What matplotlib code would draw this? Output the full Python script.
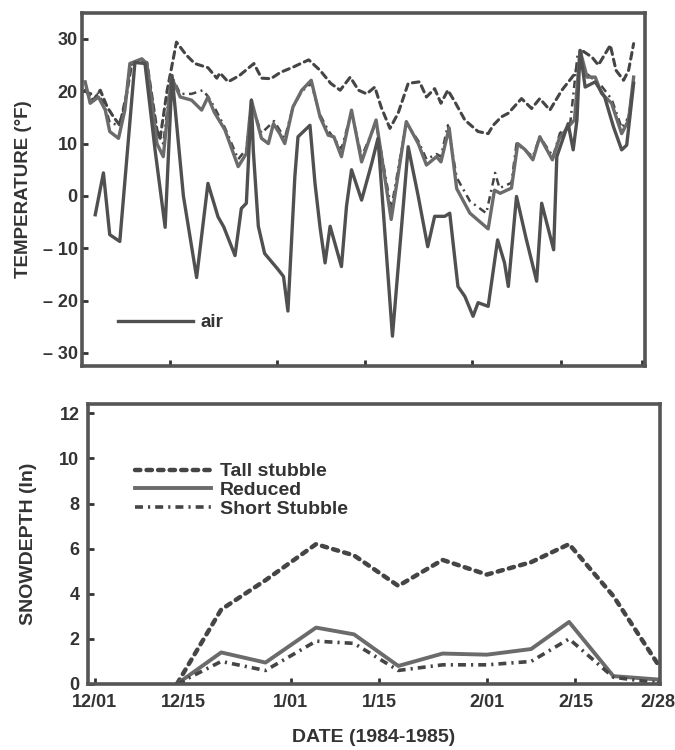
import matplotlib
matplotlib.use("Agg")
import matplotlib.pyplot as plt

plt.rcParams['font.family'] = ['Liberation Sans', 'DejaVu Sans']
plt.rcParams['font.weight'] = 'bold'
plt.rcParams['axes.labelweight'] = 'bold'

# day 0 = 12/01/1984
tick_days = [0, 14, 31, 45, 62, 76, 89]
tick_labels = ["12/01", "12/15", "1/01", "1/15", "2/01", "2/15", "2/28"]

# ---- soil / air temperatures (deg F) ----
tall_days = [0.5, 1.8, 2.9, 4, 5, 6, 7.1, 7.9, 9.2, 10.3, 11.9, 12.4, 13.5, 15, 16.5,
             17.9, 20, 21.4, 21.9, 23.2, 25, 27.3, 28.5, 30, 31.5, 33.5, 36, 37.8, 39.5,
             41, 42.6, 43.9, 45.2, 46.5, 47.5, 48.9, 50.2, 51.8, 53.6, 54.7, 56, 57, 58.1,
             59.2, 60.8, 62.9, 64.5, 65.3, 66.6, 67.7, 69.8, 71.4, 72.7, 74.3, 76.2, 78.3,
             79.4, 81, 82, 83.9, 84.8, 86, 86.8, 87.6]
tall_temp = [20.2, 18.3, 20.2, 17, 15.1, 13.5, 19.6, 25.3, 25.6, 25.5, 12.6, 11.0, 20, 29.4, 27,
             25.3, 24.5, 22.5, 23.5, 21.8, 23, 25.3, 22.5, 22.4, 23.6, 24.6, 26, 24, 21.5,
             20.2, 22.7, 20.2, 19.5, 20.8, 17, 12.9, 15.8, 21.5, 21.8, 18.9, 20.5, 17.7, 20.2,
             18, 14.5, 12.3, 11.9, 13.5, 15.1, 15.8, 18.6, 16.7, 18.6, 16.4, 20.2, 23.4,
             27.8, 26.5, 25, 28.8, 24, 22.1, 24, 29.1]

red_days = [0.5, 1.3, 2.6, 3.7, 4.4, 5.8, 6.8, 7.6, 9.5, 10.3, 11.9, 12.9, 14.2, 15.6, 17.4,
            19, 20, 21, 22.7, 24.8, 26.1, 26.9, 28.5, 29.6, 30.4, 31.4, 32.2, 33.5, 34.9,
            36.4, 37.8, 39.1, 40, 41.2, 42.8, 44.4, 46.7, 49.1, 51.5, 53.4, 54.7, 56.3, 57,
            58.3, 59.5, 61.6, 64.5, 65.5, 66.4, 68.2, 69.2, 70.4, 71.6, 72.7, 74.7, 75.8,
            77.2, 78.2, 79.1, 80.2, 81.5, 82.5, 84.1, 85.7, 86.8, 87.6]
red_temp = [21.8, 17.7, 18.9, 16.4, 12.3, 11, 16.4, 25.3, 26.2, 25.3, 10, 7.5, 22.7, 18.9, 18.3,
            16.4, 18.9, 16, 12.6, 5.6, 8.1, 18.3, 11, 10, 13.8, 11.9, 10, 17, 20.2,
            22.1, 15.1, 11.6, 11.3, 7.5, 16.4, 6.5, 14.5, -4.5, 14.2, 10, 5.9, 7.5, 6.5,
            13, 1.4, -3.3, -6.3, 1.1, 0.5, 1.5, 10, 8.8, 6.9, 11.3, 6.9, 11,
            13.2, 14.5, 27.8, 22.7, 22.7, 19.6, 17.7, 11.9, 14.5, 22.7]

short_days = [0.5, 1.5, 2.6, 3.7, 4.4, 5.8, 6.8, 7.6, 9.5, 10.3, 11.9, 12.9, 14.2, 15.6, 17.4,
              19.2, 20, 21, 22.7, 24.8, 26.1, 26.9, 28.5, 30.5, 32.2, 33.5, 34.9, 36.4, 37.8,
              39.1, 41.2, 42.8, 44.4, 46.7, 49.1, 51.5, 53.4, 54.7, 56.3, 57, 58.1, 59.5,
              61.6, 64.2, 65.6, 66.3, 68.2, 69, 71.6, 72.7, 74.8, 75.9, 77.5, 78.7, 80, 81.5,
              82.5, 84.1, 85.7, 86.8, 87.6]
short_temp = [20, 19.5, 19.5, 17, 14, 13.5, 17, 25, 26, 25, 12, 10, 23, 19.5, 19.5,
              20.2, 19, 17, 13, 7, 9, 17.5, 12, 14.3, 11, 17, 20, 21.5, 15.5,
              12.5, 9, 16, 7.5, 14, -2.5, 14, 10.5, 7, 8, 7.5, 13.5, 3.5,
              -1, -3.3, 4.4, 1.5, 2.5, 10, 7.5, 11.3, 7.5, 12, 13.5, 27, 23.5, 22,
              21, 18.5, 13, 15, 22]

air_days = [2.1, 3.4, 4.4, 6, 8.4, 10, 11.6, 13.2, 14.3, 16.1, 18.2, 20, 21.6, 22.5, 24.3,
            25.3, 26.1, 26.9, 27.2, 28, 29, 31.1, 32, 32.7, 33.8, 34.3, 36.2, 37, 37.8,
            38.6, 39.4, 41.2, 42, 42.8, 44.4, 46, 47, 49.3, 51.8, 53.4, 54.9, 56, 57.6,
            58.4, 59.7, 60.8, 62.1, 62.9, 64.5, 66, 67.1, 67.7, 69, 70.5, 72.2, 73, 74.9,
            75.4, 77.2, 78, 78.6, 79.1, 79.9, 81.5, 83, 84.4, 85.7, 86.5, 87.6]
air_temp = [-3.6, 4.4, -7.4, -8.7, 25.5, 25.3, 8.8, -6, 23, 0, -15.6, 2.4, -4, -5.9, -11.4,
            -2.4, -1.4, 18.3, 8.7, -5.8, -11, -14, -15.4, -22, 3.7, 11.3, 13.5, 2.4, -6,
            -12.8, -5.8, -13.5, -2, 5, -0.8, 6.2, 11, -26.8, 9.4, -0.1, -9.7, -3.9, -3.9,
            -3.3, -17.3, -19.2, -23, -20.4, -21.1, -8.4, -12.8, -17.3, -0.1, -8, -16.3, -1.4, -10.3,
            7.5, 13.8, 8.8, 14.5, 27.8, 20.8, 21.8, 18.9, 13.2, 8.8, 9.7, 21.5]

# ---- snow depth (in) ----
snow_days = [13, 20, 27, 35, 41, 48, 55, 62, 69, 75, 82, 89]
tall_snow = [0, 3.3, 4.6, 6.2, 5.7, 4.35, 5.5, 4.85, 5.4, 6.2, 3.9, 0.9]
reduced_snow = [0, 1.4, 0.95, 2.5, 2.2, 0.8, 1.35, 1.3, 1.55, 2.75, 0.35, 0.2]
short_snow = [0, 1.0, 0.6, 1.9, 1.8, 0.6, 0.85, 0.85, 1.0, 2.0, 0.3, 0.05]

GRAY = "#6b6b6b"
DARK = "#454545"
TXT = "#333333"
DASH = (0, (2.2, 1.6))
DASHDOT = (0, (3, 1.8, 0.8, 1.8))

fig = plt.figure(figsize=(6.75, 7.5), dpi=100)
ax1 = fig.add_axes([0.1215, 0.512, 0.834, 0.471])
ax2 = fig.add_axes([0.130, 0.088, 0.848, 0.373])

# top panel
ax1.plot(tall_days, tall_temp, color=DARK, lw=2.2, linestyle=DASH, dash_capstyle='round')
ax1.plot(short_days, short_temp, color=DARK, lw=1.8, linestyle=DASHDOT)
ax1.plot(red_days, red_temp, color=GRAY, lw=2.4)
ax1.plot(air_days, air_temp, color="#505050", lw=2.4, label="air")
ax1.set_xlim(0, 89.4)
ax1.set_ylim(-32.5, 35)
ax1.set_yticks([-30, -20, -10, 0, 10, 20, 30])
ax1.set_yticklabels(["\u2013 30", "\u2013 20", "\u2013 10", "0", "10", "20", "30"])
ax1.set_xticks(tick_days[1:])
ax1.set_xticklabels([])
ax1.set_ylabel("TEMPERATURE (\u00b0F)", fontsize=13.5, color=TXT, labelpad=8)
leg = ax1.legend(loc="center left", bbox_to_anchor=(0.064, 0.122), frameon=False,
                 borderpad=0, borderaxespad=0, handlelength=4.0, fontsize=13.5,
                 handletextpad=0.4)
for t in leg.get_texts():
    t.set_color(TXT)

# bottom panel
ax2.plot(snow_days, tall_snow, color=DARK, lw=3.2, linestyle=(0, (1.2, 1.4)),
         dash_capstyle='round', label="Tall stubble")
ax2.plot(snow_days, reduced_snow, color=GRAY, lw=2.8, label="Reduced")
ax2.plot(snow_days, short_snow, color=DARK, lw=2.6, linestyle=(0, (2.2, 1.4, 0.6, 1.4)),
         label="Short Stubble")
ax2.set_xlim(-1.1, 89.4)
ax2.set_ylim(0, 12.4)
ax2.set_yticks([0, 2, 4, 6, 8, 10, 12])
ax2.set_xticks(tick_days)
ax2.set_xticklabels(tick_labels)
ax2.set_ylabel("SNOWDEPTH (In)", fontsize=14, color=TXT, labelpad=16)
ax2.set_xlabel("DATE (1984-1985)", fontsize=14, color=TXT, labelpad=13)
leg2 = ax2.legend(loc="center left", bbox_to_anchor=(0.082, 0.693), frameon=False,
                  borderpad=0, borderaxespad=0, handlelength=3.9, fontsize=14,
                  handletextpad=0.5, labelspacing=0.05)
for t in leg2.get_texts():
    t.set_color(TXT)

for ax in (ax1, ax2):
    for s in ax.spines.values():
        s.set_linewidth(2.6)
        s.set_color("#555555")
    ax.tick_params(direction="in", length=4, width=2, color="#333333",
                   labelsize=13, labelcolor=TXT, pad=6)
ax1.tick_params(axis="y", pad=3)
ax2.tick_params(axis="x", pad=7)

fig.savefig("out.png", dpi=100)
